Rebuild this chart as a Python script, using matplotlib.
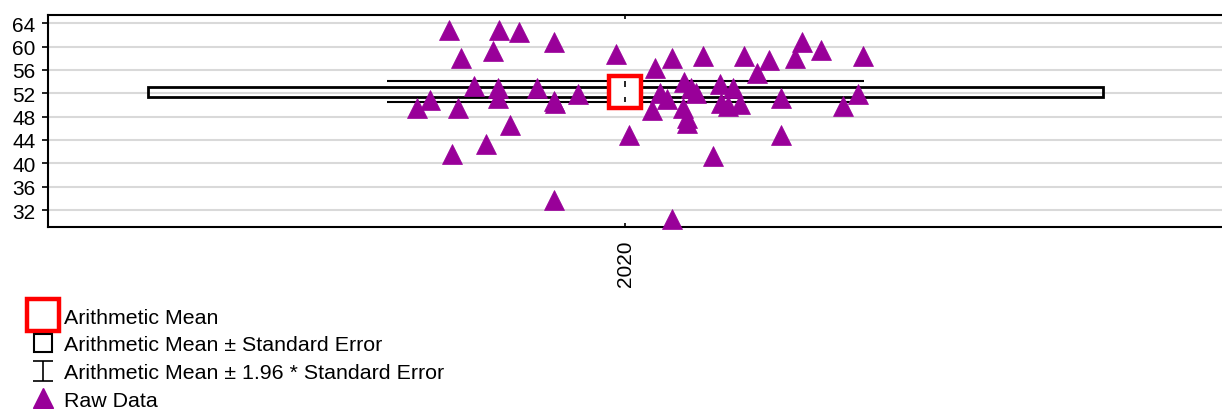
import matplotlib.pyplot as plt
from matplotlib.lines import Line2D
from matplotlib.path import Path
import numpy as np

plt.rcParams['font.family'] = ['Liberation Sans', 'DejaVu Sans']

# values
categories = ["2020"]
mean_val = 52.25
se_val = 0.9
raw_jitter = [-0.148, -0.106, -0.089, -0.060, -0.138, -0.111, -0.008, 0.039, 0.065, 0.099,
              0.120, 0.148, 0.164, 0.142, 0.110, 0.025, -0.127, -0.107, -0.107, -0.074,
              -0.060, -0.059, -0.040, -0.164, -0.175, -0.140, -0.097, -0.117, -0.145, -0.060,
              0.003, 0.039, 0.073, 0.130, 0.130, 0.022, 0.049, 0.055, 0.059, 0.029,
              0.035, 0.048, 0.052, 0.052, 0.079, 0.090, 0.080, 0.086, 0.096, 0.199,
              0.195, 0.182]
raw_values = [62.9, 62.9, 62.5, 60.8, 58.0, 59.3, 58.8, 58.0, 58.4, 58.4,
              57.7, 60.8, 59.4, 58.0, 55.4, 56.3, 53.3, 52.9, 51.2, 52.9,
              50.6, 50.3, 51.9, 50.9, 49.5, 49.5, 46.5, 43.3, 41.6, 33.8,
              44.8, 30.4, 41.3, 44.8, 51.2, 49.1, 54.0, 52.9, 52.0, 52.0,
              51.1, 49.5, 47.7, 46.9, 53.6, 52.9, 50.4, 49.8, 50.1, 58.4,
              51.9, 49.8]
y_ticks = list(range(32, 65, 4))

PURPLE = '#990099'
BOX_HALF = 0.4
CAP_HALF = 0.2

fig = plt.figure(figsize=(12.22, 4.10), dpi=100)
ax = fig.add_axes([48 / 1222, 1 - 228 / 410, 1 - 48 / 1222, (228 - 16) / 410])

x0 = 0
lo_se, hi_se = mean_val - se_val, mean_val + se_val
lo_ci, hi_ci = mean_val - 1.96 * se_val, mean_val + 1.96 * se_val

# mean +- SE box (no fill, grid shows through)
ax.add_patch(plt.Rectangle((x0 - BOX_HALF, lo_se), 2 * BOX_HALF, hi_se - lo_se,
                           facecolor='none', edgecolor='black', lw=2.0, zorder=3))
# mean +- 1.96 SE whisker
ax.hlines([lo_ci, hi_ci], x0 - CAP_HALF, x0 + CAP_HALF, color='black', lw=1.5, zorder=3)

# raw data
ax.plot(np.array(raw_jitter) + x0, raw_values, linestyle='none', marker='^', ms=15,
        color=PURPLE, mec=PURPLE, mew=0.5, zorder=4, clip_on=False)

# mean marker
ax.plot([x0], [mean_val], linestyle='none', marker='s', ms=23.5, mfc='white',
        mec='#ff0000', mew=3.2, zorder=5)
ax.vlines([x0, x0], [hi_se, lo_ci], [hi_ci, lo_se], color='black', lw=1.2, zorder=6)

ax.set_xlim(-0.484, 0.5)
ax.set_ylim(29.1, 65.4)
ax.set_yticks(y_ticks)
ax.set_xticks(range(len(categories)))
ax.set_xticklabels(categories, rotation=90)
ax.yaxis.grid(True, color='#d9d9d9', lw=1.5)
ax.set_axisbelow(True)
for side in ['left', 'top', 'bottom']:
    ax.spines[side].set_linewidth(1.5)
ax.spines['right'].set_visible(False)
ax.tick_params(axis='y', direction='out', length=4, width=1.2, labelsize=15, pad=5)
ax.tick_params(axis='x', direction='in', length=3, width=1.2, labelsize=15, pad=9,
               top=True)

# legend
i_path = Path([(-0.5, 0.5), (0.5, 0.5), (0, 0.5), (0, -0.5), (-0.5, -0.5), (0.5, -0.5)],
              [Path.MOVETO, Path.LINETO, Path.MOVETO, Path.LINETO, Path.MOVETO, Path.LINETO])
handles = [
    Line2D([], [], linestyle='none', marker='s', ms=23.5, mfc='white', mec='#ff0000', mew=3.2),
    Line2D([], [], linestyle='none', marker='s', ms=12.5, mfc='white', mec='black', mew=1.5),
    Line2D([], [], linestyle='none', marker=i_path, ms=14, mfc='none', mec='black', mew=1.2),
    Line2D([], [], linestyle='none', marker='^', ms=15, color=PURPLE, mec=PURPLE),
]
labels = ["Arithmetic Mean", "Arithmetic Mean \u00b1 Standard Error",
          "Arithmetic Mean \u00b1 1.96 * Standard Error", "Raw Data"]
fig.legend(handles, labels, loc='upper left', bbox_to_anchor=(22 / 1222, 1 - 300 / 410),
           frameon=False, fontsize=15.4, handlelength=1.15, handletextpad=0.4,
           labelspacing=0.41, borderpad=0.4, borderaxespad=0)

fig.savefig('out.png', dpi=100)
